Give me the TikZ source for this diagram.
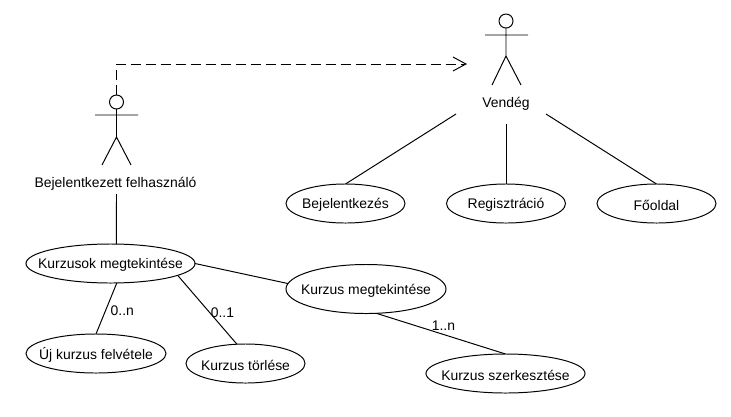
\documentclass[tikz,border=0pt]{standalone}
\usepackage{fontspec}
\setmainfont{Liberation Sans}
\usetikzlibrary{shapes.geometric,arrows.meta}
\tikzset{
  usecase/.style={draw,ellipse,line width=0.7pt,inner sep=0pt,outer sep=0pt,minimum width=#1,minimum height=0.975cm},
  usecase/.default=2.975cm,
  head/.style={draw,circle,line width=0.7pt,inner sep=0pt,outer sep=0pt,minimum size=0.35cm},
  assoc/.style={line width=0.7pt},
  txt/.style={font=\fontsize{9.9}{11}\selectfont,inner sep=0pt,yshift=-0.04cm}
}
\begin{document}
\begin{tikzpicture}[x=0.025cm,y=-0.025cm]
\useasboundingbox (0,0) rectangle (731,416);
% actors
\node[head] (headA) at (116.5,102) {};
\draw[assoc] (headA.south)--(116.5,137) (95,115)--(138,115) (102,165)--(116.5,137)--(131,165);
\node[txt] (userA) at (115.5,182) {Bejelentkezett felhasználó};
\node[head] (headB) at (506,21) {};
\draw[assoc] (headB.south)--(506,56) (485,35)--(528,35) (492,85)--(506,56)--(521,85);
\node[txt] (guest) at (506,102) {Vendég};
% use cases
\node[usecase=4.225cm] (list) at (110.5,263.5) {};
\node[txt] at (list) {Kurzusok megtekintése};
\node[usecase=3.5cm] (new) at (96,353.5) {};
\node[txt] at (new) {Új kurzus felvétele};
\node[usecase] (del) at (245.5,363.5) {};
\node[txt] at (del) {Kurzus törlése};
\node[usecase=4cm,minimum height=1.225cm] (view) at (366,289) {};
\node[txt] at (view) {Kurzus megtekintése};
\node[usecase=3.975cm] (edit) at (505.5,373.5) {};
\node[txt] at (edit) {Kurzus szerkesztése};
\node[usecase] (login) at (345.5,203.5) {};
\node[txt] at (login) {Bejelentkezés};
\node[usecase] (reg) at (506,203.5) {};
\node[txt] at (reg) {Regisztráció};
\node[usecase] (home) at (656.5,203.5) {};
\node[txt] at (home) {Főoldal};
% free ends
\coordinate (userEnd) at (116.5,194);
\coordinate (guestL) at (456,114);
\coordinate (guestM) at (506,124);
\coordinate (guestR) at (546,114);
\coordinate (genEnd) at (467,64);
% connectors
\draw[assoc,dash pattern=on 0.25cm off 0.125cm,-{Straight Barb[length=0.325cm,width=0.35cm,line width=0.7pt]}] (headA.north)|-(genEnd);
\draw[assoc] (userEnd)--(list.73);
\draw[assoc] (guestL)--(login.north);
\draw[assoc] (guestM)--(reg.north);
\draw[assoc] (guestR)--(home.north);
\draw[assoc] (list.-72)--(new.north)node[pos=0.52,right=3pt,txt]{0..n};
\draw[assoc] (list.-10)--(del.114)node[pos=0.52,xshift=0.35cm,txt]{0..1};
\draw[assoc] (list.east)--(view.176);
\draw[assoc] (view.-67)--(edit.north)node[pos=0.52,above=3.7pt,txt]{1..n};
\end{tikzpicture}
\end{document}
